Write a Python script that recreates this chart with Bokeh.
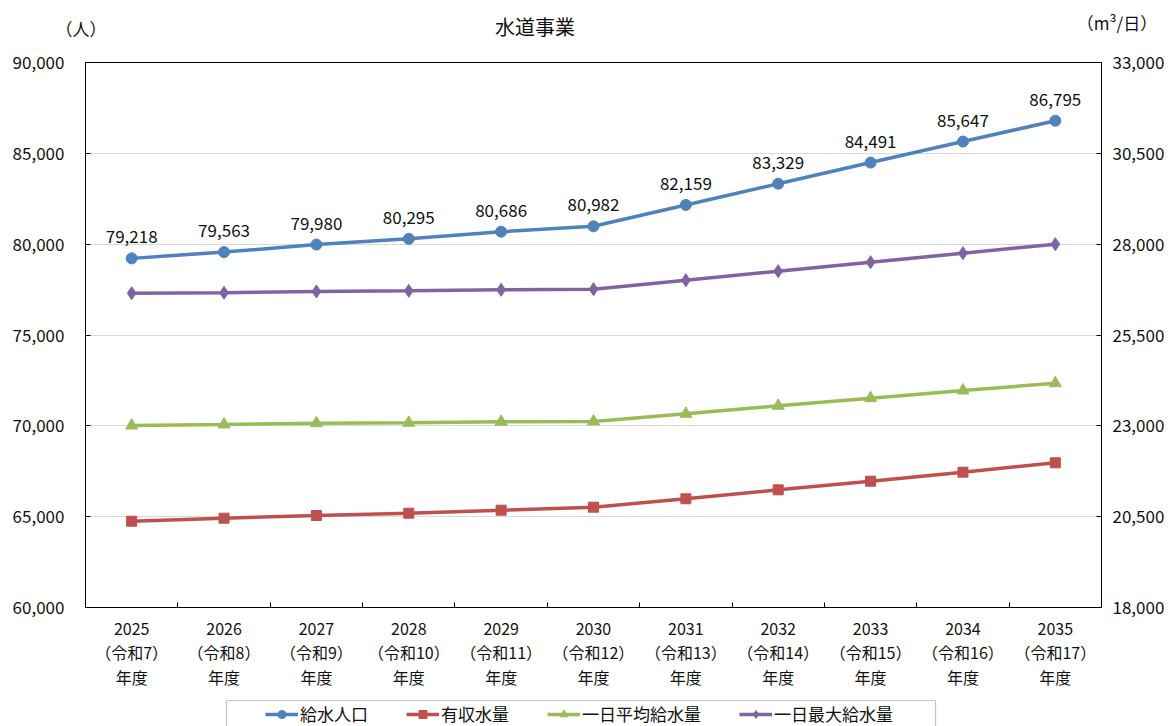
from bokeh.plotting import figure
from bokeh.layouts import column
from bokeh.models import (Range1d, LinearAxis, FixedTicker, NumeralTickFormatter, Div,
                          Legend, LegendItem, ColumnDataSource, BoxAnnotation)
from bokeh.core.properties import value
from bokeh.embed import file_html
from bokeh.resources import INLINE

FONT = "Noto Sans CJK JP"
TXT = "#111111"

years = ["2025", "2026", "2027", "2028", "2029", "2030", "2031", "2032", "2033", "2034", "2035"]
reiwa = ["令和7", "令和8", "令和9", "令和10", "令和11", "令和12", "令和13", "令和14", "令和15", "令和16", "令和17"]
population = [79218, 79563, 79980, 80295, 80686, 80982, 82159, 83329, 84491, 85647, 86795]
revenue_water = [20375, 20458, 20532, 20596, 20678, 20761, 20992, 21239, 21476, 21724, 21982]
avg_daily = [23009, 23037, 23073, 23084, 23111, 23119, 23331, 23551, 23761, 23972, 24173]
max_daily = [26650, 26662, 26697, 26716, 26744, 26760, 27008, 27256, 27504, 27751, 27999]

left_ticks = [60000, 65000, 70000, 75000, 80000, 85000, 90000]
right_ticks = [18000, 20500, 23000, 25500, 28000, 30500, 33000]

names = ["給水人口", "有収水量", "一日平均給水量", "一日最大給水量"]
colors = ["#4F81BD", "#C0504D", "#9BBB59", "#8064A2"]
markers = ["circle", "square", "triangle", "diamond"]
msizes = [11, 10, 12, 13]

title_text = "水道事業"
left_unit = "（人）"
right_unit = "（m³/日）"

W = 1168
n = len(years)
xpos = [i + 0.5 for i in range(n)]          # category centres
bounds = list(range(1, n))                   # category boundaries (tick marks)

# ---------- header (title + units) ----------
HH = 40
span = ("position:absolute;white-space:nowrap;transform:translate(-50%,-50%);"
        "font-family:'Noto Sans CJK JP';color:#111111;line-height:1;")
header_html = (
    f'<div style="position:relative;width:{W}px;height:{HH}px;">'
    f'<span style="{span}left:81px;top:28px;font-size:17px;">{left_unit}</span>'
    f'<span style="{span}left:535px;top:27px;font-size:20px;">{title_text}</span>'
    f'<span style="{span}left:1117px;top:22px;font-size:17px;">{right_unit}</span>'
    '</div>'
)
head = Div(text=header_html, width=W, height=HH, margin=0)

# ---------- main chart ----------
p = figure(x_range=Range1d(0, n), y_range=Range1d(60000, 90000),
           frame_width=1016, frame_height=545,
           min_border_left=85, min_border_right=67, min_border_top=22, min_border_bottom=90,
           x_axis_location=None, y_axis_location=None,
           output_backend="svg", toolbar_location=None, tools="")
p.background_fill_color = "white"
p.border_fill_color = "white"
p.outline_line_color = "black"
p.outline_line_width = 1
p.xgrid.visible = False
p.ygrid.ticker = FixedTicker(ticks=left_ticks)
p.ygrid.grid_line_color = "#d9d9d9"
p.ygrid.grid_line_width = 1

p.extra_y_ranges = {"right": Range1d(18000, 33000)}


def style_axis(ax, size="17px"):
    ax.axis_line_color = "black"
    ax.major_tick_line_color = "black"
    ax.major_tick_in = 5
    ax.major_tick_out = 0
    ax.minor_tick_line_color = None
    ax.major_label_text_font = FONT
    ax.major_label_text_font_size = size
    ax.major_label_text_color = TXT


ly = LinearAxis(ticker=FixedTicker(ticks=left_ticks), formatter=NumeralTickFormatter(format="0,0"))
style_axis(ly)
ly.major_label_standoff = 21
p.add_layout(ly, "left")

ry = LinearAxis(y_range_name="right", ticker=FixedTicker(ticks=right_ticks),
                formatter=NumeralTickFormatter(format="0,0"))
style_axis(ry)
ry.major_label_standoff = 11
p.add_layout(ry, "right")

# category labels at centres; tick marks (minor ticks) at category boundaries
cx = LinearAxis(ticker=FixedTicker(ticks=xpos, minor_ticks=bounds))
style_axis(cx, "16px")
cx.major_tick_line_color = None
cx.minor_tick_line_color = "black"
cx.minor_tick_in = 5
cx.minor_tick_out = 0
cx.major_label_standoff = 8
cx.major_label_text_line_height = 1.03
cx.major_label_overrides = {x: f"{y}\n（{r}）\n年度" for x, y, r in zip(xpos, years, reiwa)}
p.add_layout(cx, "below")

src = ColumnDataSource(dict(x=xpos, pop=population, rev=revenue_water, avg=avg_daily, mx=max_daily,
                            lbl=[f"{v:,}" for v in population]))

lw = 3.5
series = [("pop", "default"), ("rev", "right"), ("avg", "right"), ("mx", "right")]
for (col, rng), c, m, s in zip(series, colors, markers, msizes):
    p.line("x", col, source=src, color=c, line_width=lw, y_range_name=rng)
    p.scatter("x", col, source=src, marker=m, size=s, color=c, y_range_name=rng)

p.text("x", "pop", text="lbl", source=src, y_offset=-15, text_align="center", text_baseline="bottom",
       text_font=value(FONT), text_font_size="17px", text_color=TXT)

# ---------- footer (legend) ----------
# footer frame is aligned with the main frame (x 85..1101), so use pixel coordinates there
FH = 29
TOP = 697
foot = figure(width=W, height=FH, x_range=Range1d(85, 1101), y_range=Range1d(TOP + FH, TOP),
              min_border=0, output_backend="svg", toolbar_location=None, tools="")
foot.xaxis.visible = False
foot.yaxis.visible = False
foot.xgrid.visible = False
foot.ygrid.visible = False
foot.outline_line_color = None
foot.background_fill_color = "white"
foot.border_fill_color = "white"
items = []
for (col, _), name, c, m, s in zip(series, names, colors, markers, msizes):
    # same series (outside the footer's visible range) only serve as legend glyphs
    rl = foot.line("x", col, source=src, color=c, line_width=lw)
    rm = foot.scatter("x", col, source=src, marker=m, size=s, color=c)
    items.append(LegendItem(label=name, renderers=[rl, rm]))
legend = Legend(items=items, orientation="horizontal", location=(180, 0),
                padding=0, margin=0, spacing=38, glyph_width=33, glyph_height=20, label_standoff=2,
                border_line_color=None, background_fill_alpha=0,
                label_text_font=FONT, label_text_font_size="17px", label_text_color=TXT)
foot.add_layout(legend, "center")
foot.add_layout(BoxAnnotation(left=226, right=935, top=700, bottom=745,
                              fill_alpha=0, line_color="#404040", line_width=1.2))

layout = column(head, p, foot, spacing=0)
open("out.html", "w").write(file_html(layout, INLINE))
